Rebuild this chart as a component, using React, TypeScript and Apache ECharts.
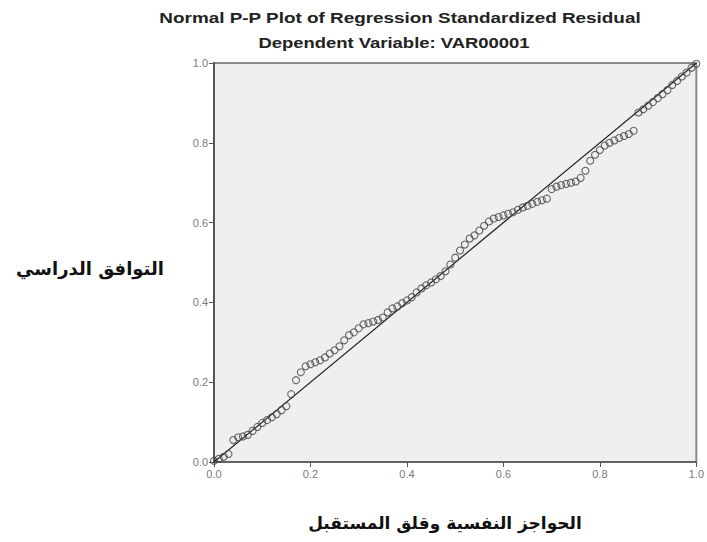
import React, { useEffect, useRef } from "react";
import * as echarts from "echarts";

const titleText = "Normal P-P Plot of Regression Standardized Residual";
const subtitleText = "Dependent Variable: VAR00001";
const xAxisName = "الحواجز النفسية وقلق المستقبل";
const yAxisName = "التوافق الدراسي";

const observedCumProb = [
  0.0, 0.01, 0.02, 0.03, 0.04, 0.05, 0.06, 0.07, 0.08, 0.09,
  0.1, 0.11, 0.12, 0.13, 0.14, 0.15, 0.16, 0.17, 0.18, 0.19,
  0.2, 0.21, 0.22, 0.23, 0.24, 0.25, 0.26, 0.27, 0.28, 0.29,
  0.3, 0.31, 0.32, 0.33, 0.34, 0.35, 0.36, 0.37, 0.38, 0.39,
  0.4, 0.41, 0.42, 0.43, 0.44, 0.45, 0.46, 0.47, 0.48, 0.49,
  0.5, 0.51, 0.52, 0.53, 0.54, 0.55, 0.56, 0.57, 0.58, 0.59,
  0.6, 0.61, 0.62, 0.63, 0.64, 0.65, 0.66, 0.67, 0.68, 0.69,
  0.7, 0.71, 0.72, 0.73, 0.74, 0.75, 0.76, 0.77, 0.78, 0.79,
  0.8, 0.81, 0.82, 0.83, 0.84, 0.85, 0.86, 0.87, 0.88, 0.89,
  0.9, 0.91, 0.92, 0.93, 0.94, 0.95, 0.96, 0.97, 0.98, 0.99, 1.0,
];

const expectedCumProb = [
  0.003, 0.008, 0.013, 0.02, 0.055, 0.062, 0.064, 0.068, 0.078, 0.088,
  0.098, 0.105, 0.112, 0.12, 0.13, 0.14, 0.17, 0.205, 0.225, 0.24,
  0.245, 0.25, 0.255, 0.262, 0.272, 0.28, 0.29, 0.305, 0.318, 0.325,
  0.335, 0.345, 0.348, 0.352, 0.356, 0.362, 0.375, 0.385, 0.39, 0.398,
  0.405, 0.413, 0.425, 0.435, 0.443, 0.45, 0.458, 0.466, 0.478, 0.495,
  0.512, 0.53, 0.545, 0.56, 0.568, 0.58, 0.592, 0.603, 0.61, 0.614,
  0.618, 0.622, 0.626, 0.632, 0.638, 0.642, 0.647, 0.652, 0.656, 0.66,
  0.684, 0.69, 0.694, 0.697, 0.7, 0.703, 0.712, 0.73, 0.755, 0.77,
  0.782, 0.793, 0.8, 0.806, 0.812, 0.817, 0.822, 0.83, 0.876, 0.884,
  0.893, 0.902, 0.912, 0.922, 0.932, 0.945, 0.955, 0.966, 0.976, 0.988, 0.998,
];

const diagonal = [
  [0, 0],
  [1, 1],
];

export default function App() {
  const ref = useRef<HTMLDivElement>(null);

  useEffect(() => {
    if (!ref.current) return;
    const chart = echarts.init(ref.current, null, { renderer: "svg" });
    const points = observedCumProb.map((x, i) => [x, expectedCumProb[i]]);
    const axisLabel = {
      color: "#7a7a7a",
      fontSize: 11,
      fontFamily: "'Liberation Sans', Arial, sans-serif",
      formatter: (v: number) => v.toFixed(1),
    };
    chart.setOption({
      animation: false,
      backgroundColor: "#ffffff",
      grid: {
        left: 214,
        top: 63,
        width: 486,
        height: 399,
        show: true,
        backgroundColor: "#efefef",
        borderColor: "#8a8a8a",
        borderWidth: 2,
      },
      graphic: [
        {
          type: "text",
          x: 400,
          y: 18,
          scaleX: 1.26,
          style: {
            text: titleText,
            fill: "#222",
            font: "bold 15px 'Liberation Sans', Arial, sans-serif",
            textAlign: "center",
            textVerticalAlign: "middle",
          },
        },
        {
          type: "text",
          x: 394,
          y: 43,
          scaleX: 1.23,
          style: {
            text: subtitleText,
            fill: "#222",
            font: "bold 15px 'Liberation Sans', Arial, sans-serif",
            textAlign: "center",
            textVerticalAlign: "middle",
          },
        },
        {
          type: "text",
          x: 90,
          y: 268,
          style: {
            text: yAxisName,
            fill: "#111",
            font: "bold 18px 'DejaVu Sans', sans-serif",
            textAlign: "center",
            textVerticalAlign: "middle",
          },
        },
        {
          type: "text",
          x: 445,
          y: 523,
          style: {
            text: xAxisName,
            fill: "#111",
            font: "bold 17px 'DejaVu Sans', sans-serif",
            textAlign: "center",
            textVerticalAlign: "middle",
          },
        },
      ],
      xAxis: {
        type: "value",
        min: 0,
        max: 1,
        interval: 0.2,
        splitLine: { show: false },
        axisLine: { show: true, onZero: false, lineStyle: { color: "#555", width: 1.5 } },
        axisTick: { show: true, length: 5, lineStyle: { color: "#555" } },
        axisLabel: { ...axisLabel, margin: 6 },
      },
      yAxis: {
        type: "value",
        min: 0,
        max: 1,
        interval: 0.2,
        splitLine: { show: false },
        axisLine: { show: true, onZero: false, lineStyle: { color: "#555", width: 2 } },
        axisTick: { show: true, length: 5, lineStyle: { color: "#555" } },
        axisLabel: { ...axisLabel, margin: 6 },
      },
      series: [
        {
          type: "line",
          data: diagonal,
          showSymbol: false,
          symbol: "none",
          lineStyle: { color: "#222", width: 1.2 },
          z: 2,
        },
        {
          type: "scatter",
          data: points,
          symbol: "circle",
          symbolSize: 7,
          itemStyle: { color: "rgba(0,0,0,0)", borderColor: "#444", borderWidth: 1.1 },
          z: 3,
        },
      ],
    });
    return () => chart.dispose();
  }, []);

  return (
    <div
      ref={ref}
      style={{ position: "absolute", left: 0, top: 0, width: 707, height: 542 }}
    />
  );
}
